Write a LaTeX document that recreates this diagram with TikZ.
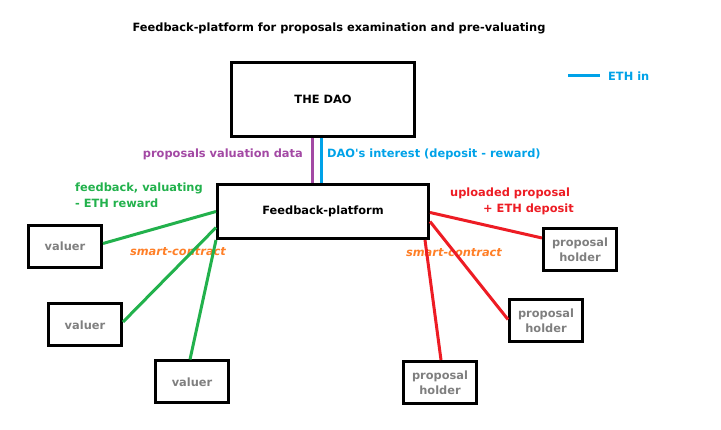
\documentclass[tikz,border=0pt]{standalone}
\usepackage{fontspec}
\setmainfont{DejaVu Sans}
\usetikzlibrary{positioning}
\definecolor{pgreen}{HTML}{22B14C}
\definecolor{pred}{HTML}{ED1C24}
\definecolor{pblue}{HTML}{00A2E8}
\definecolor{ppurple}{HTML}{A349A4}
\definecolor{porange}{HTML}{FF7F27}
\definecolor{pgray}{HTML}{7F7F7F}
\begin{document}
\begin{tikzpicture}[x=1pt, y=-1pt]
\tikzstyle{main}=[rectangle, line width=3pt, draw=black, font=\bfseries\fontsize{11.4}{15}\selectfont, align=center, inner sep=0pt]
\tikzstyle{party}=[main, text=pgray, minimum width=73pt, minimum height=42pt]
\tikzstyle{lbl}=[font=\bfseries\fontsize{11.4}{16}\selectfont, inner sep=0pt, align=left]
\tikzstyle{connect}=[draw, line width=3pt]
\useasboundingbox (0,0) rectangle (721,430);
\node[lbl] (title) at (339,28) {Feedback-platform for proposals examination and pre-valuating};
\node[main, minimum width=183pt, minimum height=74pt] (dao) at (323,99.5) {THE DAO};
\node[main, minimum width=211pt, minimum height=54pt] (platform) at (323,211.5) {Feedback-platform};
\node[party] (valuer1) at (65,246.5) {valuer};
\node[party] (valuer2) at (85,325) {valuer};
\node[party] (valuer3) at (192,382) {valuer};
\node[party] (holder1) at (580,250) {proposal\\holder};
\node[party] (holder2) at (546,320.5) {proposal\\holder};
\node[party] (holder3) at (440,382.5) {proposal\\holder};
% labels
\node[lbl, text=ppurple, anchor=east] (valdata) at (303,154) {proposals valuation data};
\node[lbl, text=pblue, anchor=west] (interest) at (327,154) {DAO\textquotesingle s interest (deposit - reward)};
\node[lbl, text=pgreen, anchor=west] (reward) at (75,195) {feedback, valuating\\- ETH reward};
\node[lbl, text=pred, anchor=west] (deposit) at (450,201) {uploaded proposal\\\hspace*{33pt}+ ETH deposit};
\node[lbl, text=porange, font=\bfseries\itshape\fontsize{11.4}{15}\selectfont] (contract1) at (178,252) {smart-contract};
\node[lbl, text=porange, font=\bfseries\itshape\fontsize{11.4}{15}\selectfont] (contract2) at (454,253) {smart-contract};
\coordinate (ethA) at (568,76);
\coordinate (ethB) at (600,76);
\node[lbl, text=pblue, anchor=west] (ethin) at (608,76) {ETH in};
% connections
\path[connect, ppurple] ([xshift=-11pt]dao.south) -- ([xshift=-11pt]platform.north);
\path[connect, pblue] ([xshift=-2pt]dao.south) -- ([xshift=-2pt]platform.north);
\path[connect, pblue] (ethA) -- (ethB);
\path[connect, pgreen]
    (platform.west) -- ([yshift=3pt]valuer1.east)
    ([yshift=-16pt]platform.west) -- ([yshift=3pt]valuer2.east)
    (platform.south west) -- ([xshift=-2pt]valuer3.north);
\path[connect, pred]
    ([yshift=-1pt]platform.east) -- ([yshift=12pt]holder1.west)
    ([yshift=-10pt]platform.east) -- ([yshift=1pt]holder2.west)
    ([xshift=-5pt]platform.south east) -- ([xshift=1pt]holder3.north);
\end{tikzpicture}
\end{document}
